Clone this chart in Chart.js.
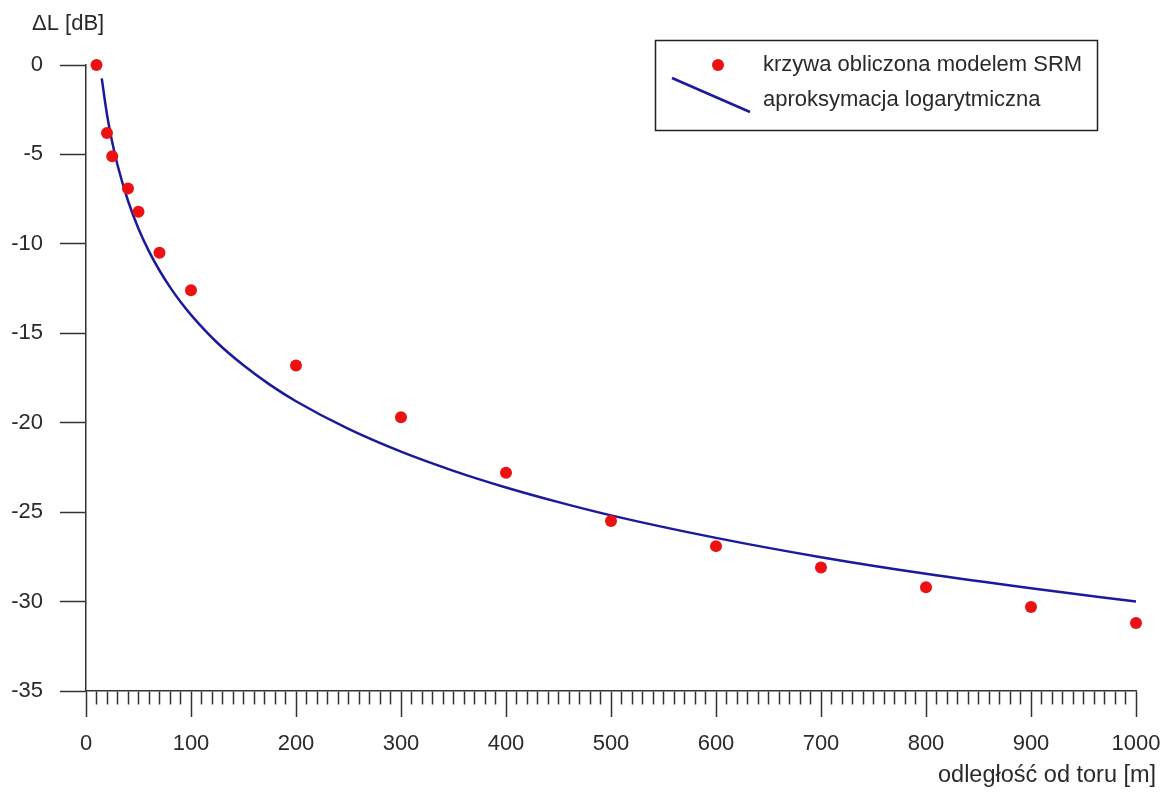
<!DOCTYPE html>
<html>
<head>
<meta charset="utf-8">
<script src="https://cdn.jsdelivr.net/npm/chart.js@4.4.1/dist/chart.umd.min.js"></script>
<style>
  body { margin: 0; background: #fff; }
  #wrap { width: 1165px; height: 804px; }
</style>
</head>
<body>
<div id="wrap"><canvas id="chart" width="1165" height="804"></canvas></div>
<script>
// SRM model points: distance from track [m] -> level drop [dB]
const srmDistance = [10, 20, 25, 40, 50, 70, 100, 200, 300, 400, 500, 600, 700, 800, 900, 1000];
const srmLevel = [0, -3.8, -5.1, -6.9, -8.2, -10.5, -12.6, -16.8, -19.7, -22.8, -25.5, -26.9, -28.1, -29.2, -30.3, -31.2];

// logarithmic approximation, values
const fitDistance = [15, 20, 25, 30, 40, 50, 60, 70, 80, 90, 100, 125, 150, 175, 200, 250, 300, 350, 400, 450, 500, 600, 700, 800, 900, 1000];
const fitLevel = [-0.75, -2.77, -4.32, -5.59, -7.59, -9.15, -10.42, -11.49, -12.42, -13.24, -13.97, -15.53, -16.79, -17.87, -18.8, -20.35, -21.62, -22.69, -23.62, -24.44, -25.18, -26.44, -27.52, -28.45, -29.26, -30.0];

const xLabels = [0, 100, 200, 300, 400, 500, 600, 700, 800, 900, 1000];
const yLabels = [0, -5, -10, -15, -20, -25, -30, -35];
const seriesNames = ['krzywa obliczona modelem SRM', 'aproksymacja logarytmiczna'];
const yTitle = '\u0394L [dB]';
const xTitle = 'odległość od toru [m]';

const FONT = '"Liberation Sans", Arial, sans-serif';
const textColor = '#2a2a2a';
const axisColor = '#333333';
const red = '#ee1111';
const blue = '#1a1a9c';

function toPoints(xs, ys) {
    return xs.map(function (x, i) { return { x: x, y: ys[i] }; });
}

// legend box and the two free-standing axis captions
const decorations = {
    id: 'decorations',
    afterDraw(chart) {
        const ctx = chart.ctx;
        ctx.save();
        ctx.fillStyle = textColor;
        ctx.textBaseline = 'alphabetic';
        ctx.font = '22px ' + FONT;
        ctx.fillText(yTitle, 32, 30);
        ctx.font = '23.5px ' + FONT;
        ctx.fillText(xTitle, 938, 782);

        ctx.strokeStyle = '#222';
        ctx.lineWidth = 1.5;
        ctx.strokeRect(655.5, 40.5, 442, 90);

        ctx.fillStyle = red;
        ctx.beginPath();
        ctx.arc(718, 65, 6, 0, Math.PI * 2);
        ctx.fill();

        ctx.strokeStyle = blue;
        ctx.lineWidth = 2.5;
        ctx.beginPath();
        ctx.moveTo(672, 78);
        ctx.lineTo(750, 112);
        ctx.stroke();

        ctx.font = '22px ' + FONT;
        ctx.fillStyle = textColor;
        ctx.fillText(seriesNames[0], 763, 71);
        ctx.fillText(seriesNames[1], 763, 106);
        ctx.restore();
    }
};

const ctx = document.getElementById('chart').getContext('2d');
const chart = new Chart(ctx, {
    type: 'scatter',
    data: {
        datasets: [{
            label: seriesNames[0],
            data: toPoints(srmDistance, srmLevel),
            backgroundColor: red,
            borderColor: red,
            pointRadius: 6,
            pointBorderWidth: 0,
            showLine: false,
            clip: false
        }, {
            label: seriesNames[1],
            data: toPoints(fitDistance, fitLevel),
            borderColor: blue,
            backgroundColor: blue,
            borderWidth: 2.5,
            pointRadius: 0,
            showLine: true,
            clip: false,
            cubicInterpolationMode: 'monotone'
        }]
    },
    options: {
        responsive: false,
        animation: false,
        events: [],
        layout: { padding: { top: 65, right: 29, bottom: 0, left: 0 } },
        plugins: {
            legend: { display: false },
            tooltip: { enabled: false }
        },
        scales: {
            x: {
                type: 'linear',
                min: 0,
                max: 1000,
                afterFit: function (scale) {
                    scale.height = 113;
                    scale.paddingLeft = 0;
                    scale.paddingRight = 0;
                },
                border: { display: true, color: axisColor, width: 1.5 },
                grid: {
                    drawOnChartArea: false,
                    drawTicks: true,
                    tickLength: 26,
                    tickColor: axisColor,
                    tickWidth: 1.5,
                    tickBorderDash: function (c) {
                        return xLabels.includes(c.tick.value) ? [] : [13, 100];
                    }
                },
                ticks: {
                    stepSize: 10,
                    autoSkip: false,
                    maxRotation: 0,
                    padding: 14,
                    color: textColor,
                    font: { family: FONT, size: 22 },
                    callback: function (v) { return xLabels.includes(v) ? String(v) : ''; }
                }
            },
            y: {
                type: 'linear',
                min: -35,
                max: 0,
                afterFit: function (scale) {
                    scale.width = 86;
                    scale.paddingTop = 0;
                    scale.paddingBottom = 0;
                },
                border: { display: true, color: axisColor, width: 1.5 },
                grid: {
                    drawOnChartArea: false,
                    drawTicks: true,
                    tickLength: 26,
                    tickColor: axisColor,
                    tickWidth: 1.5
                },
                ticks: {
                    stepSize: 5,
                    padding: 17,
                    color: textColor,
                    font: { family: FONT, size: 22 },
                    callback: function (v) { return yLabels.includes(v) ? String(v) : ''; }
                }
            }
        }
    },
    plugins: [decorations]
});
</script>
</body>
</html>
